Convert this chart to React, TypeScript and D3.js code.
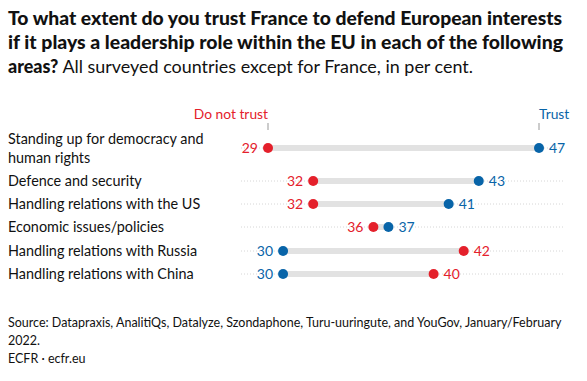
import React from "react";
import * as d3 from "d3";

const categories = [
  ["Standing up for democracy and", "human rights"],
  ["Defence and security"],
  ["Handling relations with the US"],
  ["Economic issues/policies"],
  ["Handling relations with Russia"],
  ["Handling relations with China"],
];
const doNotTrust = [29, 32, 32, 36, 42, 40];
const trust = [47, 43, 41, 37, 30, 30];
const rowY = [148, 181, 204, 227, 251, 274];

const RED = "#e4202b";
const BLUE = "#0864a8";
const FONT = "Lato, 'Open Sans', sans-serif";

export default function App() {
  const x = d3.scaleLinear().domain([29, 47]).range([268, 539]);
  return (
    <svg width={587} height={381} style={{ position: "absolute", left: 0, top: 0, background: "#fff" }} fontFamily={FONT}>
      <text x={8} y={25} fontSize={18} fontWeight={900} fill="#111" textLength={554} lengthAdjust="spacingAndGlyphs">
        To what extent do you trust France to defend European interests
      </text>
      <text x={8} y={49} fontSize={18} fontWeight={900} fill="#111" textLength={555} lengthAdjust="spacingAndGlyphs">
        if it plays a leadership role within the EU in each of the following
      </text>
      <text x={8} y={73} fontSize={18} fill="#111" textLength={465} lengthAdjust="spacingAndGlyphs">
        <tspan fontWeight={900}>areas?</tspan>
        <tspan> All surveyed countries except for France, in per cent.</tspan>
      </text>

      <text x={x(29)} y={119} fontSize={13.8} fill={RED} textAnchor="end">Do not trust</text>
      <line x1={x(29)} x2={x(29)} y1={123} y2={130} stroke="#999" />
      <text x={x(47)} y={119} fontSize={13.8} fill={BLUE} textAnchor="start">Trust</text>
      <line x1={x(47)} x2={x(47)} y1={123} y2={130} stroke="#999" />

      {categories.map((lines, i) => {
        const y = rowY[i];
        const r = doNotTrust[i];
        const b = trust[i];
        const lo = Math.min(r, b);
        const hi = Math.max(r, b);
        const loColor = r <= b ? RED : BLUE;
        const hiColor = r <= b ? BLUE : RED;
        const labelY = lines.length > 1 ? [y - 9, y + 10] : [y];
        return (
          <g key={i}>
            {lines.map((l, j) => (
              <text key={j} x={8} y={labelY[j] + 5} fontSize={14.4} fill="#111">{l}</text>
            ))}
            <line x1={241} x2={565} y1={y} y2={y} stroke="#ccc" strokeDasharray="1,2" strokeWidth={0.8} />
            <line x1={x(lo)} x2={x(hi)} y1={y} y2={y} stroke="#e2e2e2" strokeWidth={6} />
            <circle cx={x(lo)} cy={y} r={5} fill={loColor} />
            <circle cx={x(hi)} cy={y} r={5} fill={hiColor} />
            <text x={x(lo) - 10} y={y + 5} fontSize={14} fill={loColor} textAnchor="end">{lo}</text>
            <text x={x(hi) + 10} y={y + 5} fontSize={14} fill={hiColor} textAnchor="start">{hi}</text>
          </g>
        );
      })}

      <text x={8} y={327} fontSize={12.5} fill="#111">
        Source: Datapraxis, AnalitiQs, Datalyze, Szondaphone, Turu-uuringute, and YouGov, January/February
      </text>
      <text x={8} y={345} fontSize={12.5} fill="#111">2022.</text>
      <text x={8} y={363} fontSize={12.5} fill="#111">ECFR · ecfr.eu</text>
    </svg>
  );
}
